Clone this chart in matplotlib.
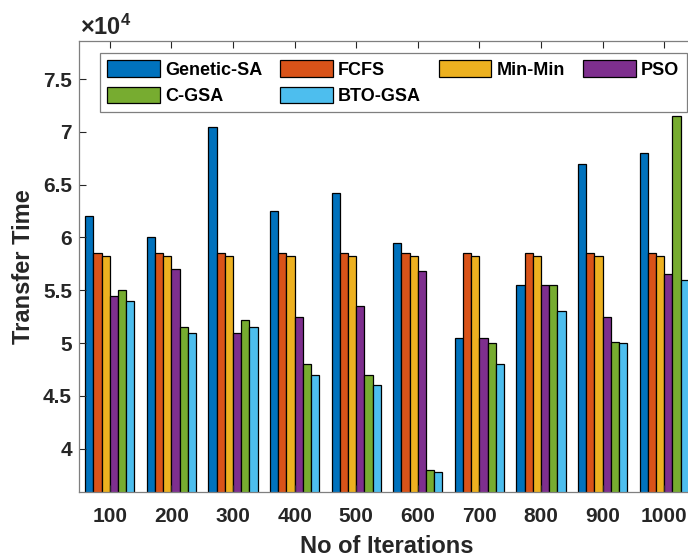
import numpy as np
import matplotlib.pyplot as plt
from matplotlib.ticker import FuncFormatter

plt.rcParams['font.family'] = 'Liberation Sans'
plt.rcParams['font.weight'] = 'bold'
plt.rcParams['mathtext.fontset'] = 'custom'
plt.rcParams['mathtext.rm'] = 'Liberation Sans:bold'
plt.rcParams['mathtext.bf'] = 'Liberation Sans:bold'

# data (transfer time)
iterations = ['100', '200', '300', '400', '500', '600', '700', '800', '900', '1000']
genetic_sa = [62000, 60000, 70500, 62500, 64200, 59500, 50500, 55500, 67000, 68000]
fcfs       = [58500, 58500, 58500, 58500, 58500, 58500, 58500, 58500, 58500, 58500]
min_min    = [58200, 58200, 58200, 58200, 58200, 58200, 58200, 58200, 58200, 58200]
pso        = [54500, 57000, 51000, 52500, 53500, 56800, 50500, 55500, 52500, 56500]
c_gsa      = [55000, 51500, 52200, 48000, 47000, 38000, 50000, 55500, 50100, 71500]
bto_gsa    = [54000, 51000, 51500, 47000, 46000, 37800, 48000, 53000, 50000, 56000]

series = [genetic_sa, fcfs, min_min, pso, c_gsa, bto_gsa]
names = ['Genetic-SA', 'FCFS', 'Min-Min', 'PSO', 'C-GSA', 'BTO-GSA']
colors = ['#0072BD', '#D95319', '#EDB120', '#7E2F8E', '#77AC30', '#4DBEEE']

fig = plt.figure(figsize=(6.88, 5.53), dpi=100)
ax = fig.add_axes([0.1148, 0.1103, 0.8953, 0.8156])

x = np.arange(1, len(iterations) + 1)
w = 0.8 / len(series)
bars = []
for i, (vals, nm, col) in enumerate(zip(series, names, colors)):
    off = (i - (len(series) - 1) / 2) * w
    b = ax.bar(x + off, vals, w, color=col, edgecolor='black', linewidth=0.9, label=nm)
    bars.append(b)

ax.set_xlim(0.5, 10.5)
ax.set_ylim(35900, 78600)
ax.set_xticks(x)
ax.set_xticklabels(iterations)
ax.set_yticks([40000, 45000, 50000, 55000, 60000, 65000, 70000, 75000])
ax.yaxis.set_major_formatter(FuncFormatter(lambda v, p: f'{v/1e4:g}'))

grey = '#262626'
ax.tick_params(direction='in', length=5, width=0.8, top=True, right=True,
               labelsize=15, colors=grey)
ax.tick_params(axis='y', pad=5)
ax.tick_params(axis='x', pad=11)
for s in ax.spines.values():
    s.set_color('#7f7f7f')
    s.set_linewidth(0.9)

ax.set_xlabel('No of Iterations', fontsize=17, fontweight='bold', color=grey, labelpad=6)
ax.set_ylabel('Transfer Time', fontsize=17, fontweight='bold', color=grey, labelpad=6)
# exponent label like matlab
ax.text(0.002, 1.013, r'$\times\mathregular{10^4}$', transform=ax.transAxes,
        fontsize=17, color=grey, ha='left', va='baseline')

# legend filled row-wise like matlab
order = [0, 4, 1, 5, 2, 3]
leg = ax.legend([bars[k] for k in order], [names[k] for k in order],
                ncol=4, loc='upper left', bbox_to_anchor=(0.034, 0.973),
                fontsize=13, frameon=True, fancybox=False, framealpha=1,
                edgecolor='#7f7f7f', handlelength=2.9, handleheight=1.0,
                handletextpad=0.3, columnspacing=1.0, labelspacing=0.45,
                borderpad=0.4, borderaxespad=0)
leg.get_frame().set_linewidth(0.9)
for t in leg.get_texts():
    t.set_fontweight('bold')

fig.savefig('out.png', dpi=100)
